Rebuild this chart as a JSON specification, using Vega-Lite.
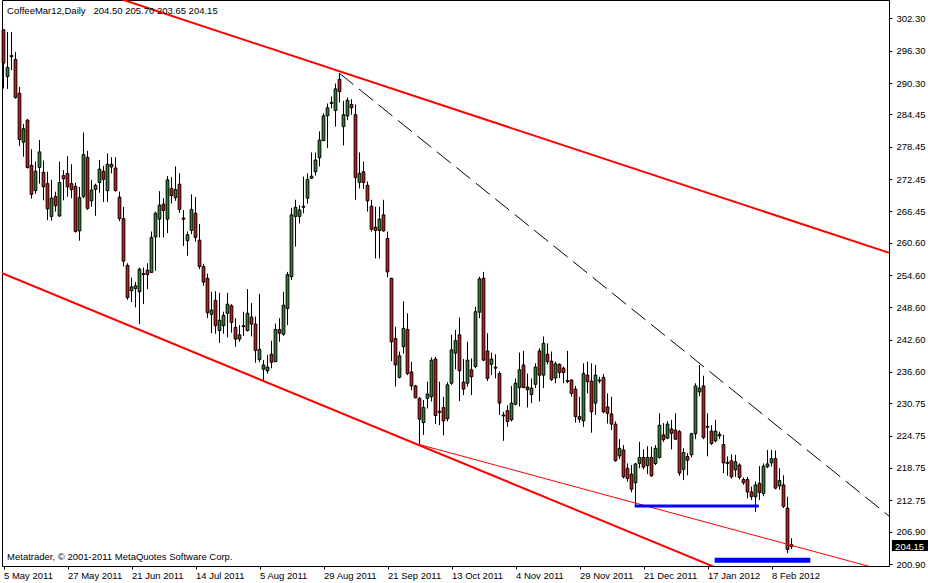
{
  "$schema": "https://vega.github.io/schema/vega-lite/v6.json",
  "width": 887,
  "height": 566,
  "autosize": {"type": "none"},
  "padding": {"left": 2, "top": 0, "right": 39, "bottom": 17},
  "background": "white",
  "config": {
    "view": {"stroke": "black", "strokeWidth": 1},
    "font": "Liberation Sans",
    "scale": {"continuousPadding": 0},
    "axis": {
      "grid": false,
      "domainColor": "black",
      "tickColor": "black",
      "labelColor": "black",
      "labelFont": "Liberation Sans",
      "labelFontSize": 9.5,
      "labelOverlap": false,
      "labelBound": false,
      "labelFlush": false
    }
  },
  "datasets": {
    "bars": [
      {"i":0,"o":300.2,"h":300.2,"l":289.3,"c":294.0},
      {"i":1,"o":291.5,"h":299.8,"l":289.2,"c":293.2},
      {"i":2,"o":295.4,"h":299.8,"l":292.7,"c":295.2},
      {"i":3,"o":294.7,"h":296.1,"l":287.4,"c":287.6},
      {"i":4,"o":288.4,"h":289.6,"l":278.6,"c":279.8},
      {"i":5,"o":279.3,"h":282.7,"l":276.6,"c":281.8},
      {"i":6,"o":283.4,"h":283.6,"l":274.4,"c":274.6},
      {"i":7,"o":275.0,"h":278.0,"l":268.8,"c":269.6},
      {"i":8,"o":270.3,"h":275.7,"l":269.7,"c":273.9},
      {"i":9,"o":274.6,"h":279.7,"l":271.6,"c":277.5},
      {"i":10,"o":273.7,"h":275.9,"l":268.5,"c":271.0},
      {"i":11,"o":271.6,"h":273.8,"l":264.8,"c":266.9},
      {"i":12,"o":265.5,"h":272.3,"l":264.7,"c":268.9},
      {"i":13,"o":269.2,"h":270.1,"l":266.4,"c":267.5},
      {"i":14,"o":265.6,"h":275.7,"l":265.4,"c":271.8},
      {"i":15,"o":273.1,"h":274.1,"l":268.5,"c":272.5},
      {"i":16,"o":273.5,"h":276.7,"l":269.2,"c":271.0},
      {"i":17,"o":271.6,"h":275.2,"l":268.9,"c":270.5},
      {"i":18,"o":271.1,"h":271.8,"l":262.5,"c":262.7},
      {"i":19,"o":262.8,"h":271.0,"l":261.0,"c":269.0},
      {"i":20,"o":269.2,"h":281.1,"l":268.9,"c":277.0},
      {"i":21,"o":276.5,"h":277.7,"l":266.7,"c":267.0},
      {"i":22,"o":268.4,"h":272.3,"l":267.3,"c":270.4},
      {"i":23,"o":270.5,"h":271.6,"l":265.6,"c":271.3},
      {"i":24,"o":271.8,"h":276.0,"l":269.9,"c":274.3},
      {"i":25,"o":273.9,"h":274.9,"l":268.2,"c":272.4},
      {"i":26,"o":270.3,"h":277.2,"l":268.2,"c":275.2},
      {"i":27,"o":275.2,"h":276.5,"l":273.5,"c":274.7},
      {"i":28,"o":274.5,"h":276.5,"l":270.1,"c":270.3},
      {"i":29,"o":269.1,"h":270.1,"l":264.6,"c":265.1},
      {"i":30,"o":265.1,"h":267.3,"l":256.2,"c":257.2},
      {"i":31,"o":256.4,"h":256.8,"l":250.0,"c":250.4},
      {"i":32,"o":251.7,"h":254.1,"l":249.6,"c":252.4},
      {"i":33,"o":252.1,"h":253.3,"l":248.6,"c":252.6},
      {"i":34,"o":251.5,"h":256.0,"l":245.5,"c":255.7},
      {"i":35,"o":254.9,"h":256.0,"l":249.2,"c":254.7},
      {"i":36,"o":255.5,"h":256.8,"l":252.0,"c":254.7},
      {"i":37,"o":255.1,"h":262.7,"l":255.0,"c":261.6},
      {"i":38,"o":261.7,"h":266.4,"l":255.4,"c":266.1},
      {"i":39,"o":265.0,"h":270.2,"l":261.6,"c":267.6},
      {"i":40,"o":267.8,"h":268.9,"l":261.6,"c":266.6},
      {"i":41,"o":265.0,"h":273.0,"l":262.4,"c":272.3},
      {"i":42,"o":270.7,"h":272.8,"l":267.9,"c":269.4},
      {"i":43,"o":269.0,"h":274.8,"l":268.4,"c":270.5},
      {"i":44,"o":271.5,"h":273.5,"l":266.2,"c":266.8},
      {"i":45,"o":265.2,"h":266.7,"l":260.0,"c":265.0},
      {"i":46,"o":261.0,"h":262.7,"l":258.2,"c":262.1},
      {"i":47,"o":262.9,"h":269.6,"l":262.2,"c":266.8},
      {"i":48,"o":266.1,"h":269.1,"l":260.8,"c":261.6},
      {"i":49,"o":261.1,"h":264.1,"l":255.7,"c":256.2},
      {"i":50,"o":256.2,"h":256.7,"l":252.6,"c":253.3},
      {"i":51,"o":254.0,"h":254.9,"l":246.6,"c":247.6},
      {"i":52,"o":247.3,"h":251.5,"l":243.8,"c":248.1},
      {"i":53,"o":249.9,"h":251.6,"l":243.7,"c":245.2},
      {"i":54,"o":244.3,"h":251.3,"l":242.0,"c":246.2},
      {"i":55,"o":245.2,"h":247.8,"l":243.7,"c":247.1},
      {"i":56,"o":247.5,"h":251.3,"l":243.0,"c":249.2},
      {"i":57,"o":248.9,"h":249.2,"l":243.9,"c":245.8},
      {"i":58,"o":244.9,"h":246.6,"l":241.3,"c":242.7},
      {"i":59,"o":242.7,"h":245.3,"l":242.2,"c":243.5},
      {"i":60,"o":245.2,"h":247.8,"l":243.3,"c":245.0},
      {"i":61,"o":244.3,"h":252.0,"l":244.1,"c":247.5},
      {"i":62,"o":246.8,"h":249.4,"l":243.2,"c":245.5},
      {"i":63,"o":245.5,"h":246.9,"l":238.3,"c":240.6},
      {"i":64,"o":238.9,"h":251.1,"l":238.4,"c":240.8},
      {"i":65,"o":237.1,"h":238.8,"l":235.1,"c":237.9},
      {"i":66,"o":236.8,"h":239.8,"l":236.3,"c":237.5},
      {"i":67,"o":239.9,"h":242.4,"l":237.3,"c":238.4},
      {"i":68,"o":238.5,"h":245.6,"l":238.5,"c":244.5},
      {"i":69,"o":244.5,"h":246.6,"l":242.2,"c":243.8},
      {"i":70,"o":243.6,"h":251.5,"l":243.3,"c":249.0},
      {"i":71,"o":248.4,"h":255.2,"l":245.3,"c":254.7},
      {"i":72,"o":254.3,"h":267.1,"l":253.7,"c":265.8},
      {"i":73,"o":265.5,"h":268.6,"l":259.9,"c":267.2},
      {"i":74,"o":265.5,"h":267.6,"l":264.2,"c":266.7},
      {"i":75,"o":267.2,"h":272.9,"l":266.1,"c":267.4},
      {"i":76,"o":268.9,"h":273.5,"l":267.9,"c":272.4},
      {"i":77,"o":272.6,"h":277.4,"l":272.5,"c":273.0},
      {"i":78,"o":273.8,"h":277.4,"l":273.1,"c":276.0},
      {"i":79,"o":276.4,"h":281.3,"l":274.8,"c":279.7},
      {"i":80,"o":279.6,"h":284.7,"l":279.5,"c":284.2},
      {"i":81,"o":284.2,"h":286.5,"l":278.2,"c":285.7},
      {"i":82,"o":286.5,"h":287.8,"l":285.6,"c":286.7},
      {"i":83,"o":285.2,"h":290.2,"l":282.2,"c":289.2},
      {"i":84,"o":291.0,"h":292.1,"l":286.7,"c":288.7},
      {"i":85,"o":282.2,"h":287.0,"l":278.7,"c":284.4},
      {"i":86,"o":284.2,"h":287.6,"l":283.4,"c":287.1},
      {"i":87,"o":286.3,"h":287.3,"l":284.4,"c":285.7},
      {"i":88,"o":284.4,"h":286.3,"l":268.6,"c":272.7},
      {"i":89,"o":271.8,"h":277.4,"l":270.7,"c":273.5},
      {"i":90,"o":273.8,"h":275.7,"l":270.6,"c":271.8},
      {"i":91,"o":271.3,"h":272.0,"l":266.4,"c":268.4},
      {"i":92,"o":267.4,"h":268.6,"l":262.7,"c":263.1},
      {"i":93,"o":263.5,"h":267.3,"l":257.7,"c":262.9},
      {"i":94,"o":262.9,"h":267.3,"l":257.7,"c":265.0},
      {"i":95,"o":265.8,"h":268.6,"l":262.7,"c":262.8},
      {"i":96,"o":261.4,"h":262.7,"l":254.2,"c":255.2},
      {"i":97,"o":254.0,"h":254.1,"l":238.6,"c":242.2},
      {"i":98,"o":242.8,"h":245.0,"l":233.9,"c":237.9},
      {"i":99,"o":235.6,"h":240.4,"l":235.4,"c":239.6},
      {"i":100,"o":241.3,"h":249.7,"l":240.0,"c":244.7},
      {"i":101,"o":244.5,"h":247.5,"l":236.0,"c":236.3},
      {"i":102,"o":236.6,"h":238.5,"l":233.2,"c":234.0},
      {"i":103,"o":234.0,"h":234.2,"l":231.7,"c":231.8},
      {"i":104,"o":231.7,"h":231.9,"l":223.2,"c":227.8},
      {"i":105,"o":227.2,"h":231.4,"l":224.9,"c":230.0},
      {"i":106,"o":231.7,"h":234.8,"l":229.8,"c":232.5},
      {"i":107,"o":232.0,"h":239.3,"l":231.1,"c":238.8},
      {"i":108,"o":239.0,"h":239.4,"l":226.9,"c":228.5},
      {"i":109,"o":229.3,"h":234.8,"l":226.7,"c":229.1},
      {"i":110,"o":230.0,"h":232.0,"l":224.8,"c":227.5},
      {"i":111,"o":227.9,"h":234.7,"l":227.4,"c":234.2},
      {"i":112,"o":234.5,"h":243.5,"l":234.2,"c":240.7},
      {"i":113,"o":240.1,"h":244.4,"l":237.1,"c":242.4},
      {"i":114,"o":243.5,"h":246.7,"l":231.2,"c":236.8},
      {"i":115,"o":234.7,"h":239.0,"l":232.3,"c":233.4},
      {"i":116,"o":234.5,"h":242.2,"l":233.9,"c":238.8},
      {"i":117,"o":237.0,"h":239.1,"l":232.3,"c":235.7},
      {"i":118,"o":237.6,"h":248.7,"l":237.3,"c":247.8},
      {"i":119,"o":247.7,"h":254.3,"l":246.6,"c":253.9},
      {"i":120,"o":254.0,"h":255.2,"l":238.6,"c":238.8},
      {"i":121,"o":240.5,"h":243.8,"l":234.9,"c":235.4},
      {"i":122,"o":238.0,"h":240.2,"l":236.0,"c":239.0},
      {"i":123,"o":237.5,"h":239.9,"l":235.4,"c":237.3},
      {"i":124,"o":236.3,"h":236.7,"l":228.6,"c":230.8},
      {"i":125,"o":228.6,"h":229.2,"l":223.8,"c":228.4},
      {"i":126,"o":229.4,"h":230.4,"l":226.4,"c":227.4},
      {"i":127,"o":227.7,"h":234.0,"l":227.4,"c":230.8},
      {"i":128,"o":230.6,"h":235.4,"l":230.4,"c":234.5},
      {"i":129,"o":233.7,"h":240.2,"l":230.2,"c":237.0},
      {"i":130,"o":237.9,"h":240.5,"l":233.6,"c":233.7},
      {"i":131,"o":233.8,"h":236.3,"l":230.0,"c":233.3},
      {"i":132,"o":232.4,"h":235.4,"l":230.8,"c":233.6},
      {"i":133,"o":234.3,"h":238.2,"l":233.6,"c":237.5},
      {"i":134,"o":240.5,"h":241.0,"l":231.1,"c":236.0},
      {"i":135,"o":236.0,"h":243.2,"l":233.6,"c":241.9},
      {"i":136,"o":239.9,"h":241.9,"l":238.0,"c":238.5},
      {"i":137,"o":238.6,"h":240.4,"l":234.9,"c":235.2},
      {"i":138,"o":235.5,"h":238.5,"l":234.5,"c":238.1},
      {"i":139,"o":238.0,"h":238.2,"l":235.5,"c":236.5},
      {"i":140,"o":237.3,"h":237.6,"l":234.5,"c":236.5},
      {"i":141,"o":235.0,"h":240.5,"l":234.5,"c":234.8},
      {"i":142,"o":235.1,"h":235.2,"l":232.0,"c":232.6},
      {"i":143,"o":233.4,"h":234.0,"l":227.2,"c":228.3},
      {"i":144,"o":228.3,"h":232.0,"l":227.2,"c":227.8},
      {"i":145,"o":227.5,"h":238.2,"l":226.4,"c":236.3},
      {"i":146,"o":236.0,"h":238.5,"l":232.6,"c":234.8},
      {"i":147,"o":234.9,"h":238.2,"l":225.3,"c":229.2},
      {"i":148,"o":230.8,"h":237.9,"l":228.6,"c":236.0},
      {"i":149,"o":235.1,"h":235.7,"l":234.5,"c":234.9},
      {"i":150,"o":235.6,"h":236.2,"l":228.9,"c":229.2},
      {"i":151,"o":230.1,"h":232.6,"l":227.0,"c":228.9},
      {"i":152,"o":228.8,"h":232.0,"l":225.8,"c":226.9},
      {"i":153,"o":226.9,"h":227.4,"l":219.9,"c":220.1},
      {"i":154,"o":221.0,"h":224.1,"l":220.4,"c":222.4},
      {"i":155,"o":222.1,"h":223.0,"l":216.8,"c":217.1},
      {"i":156,"o":218.7,"h":219.6,"l":216.2,"c":216.8},
      {"i":157,"o":217.6,"h":219.3,"l":214.2,"c":214.8},
      {"i":158,"o":216.0,"h":219.7,"l":211.8,"c":219.5},
      {"i":159,"o":219.6,"h":223.6,"l":218.7,"c":220.7},
      {"i":160,"o":220.7,"h":222.2,"l":218.5,"c":218.9},
      {"i":161,"o":219.2,"h":222.8,"l":217.6,"c":220.7},
      {"i":162,"o":220.7,"h":222.7,"l":217.1,"c":217.3},
      {"i":163,"o":219.6,"h":223.0,"l":219.3,"c":222.4},
      {"i":164,"o":220.7,"h":228.9,"l":220.5,"c":226.7},
      {"i":165,"o":224.9,"h":227.1,"l":223.6,"c":224.0},
      {"i":166,"o":224.3,"h":227.4,"l":224.1,"c":226.9},
      {"i":167,"o":226.0,"h":227.7,"l":222.2,"c":225.2},
      {"i":168,"o":225.8,"h":228.9,"l":224.0,"c":224.1},
      {"i":169,"o":225.5,"h":225.8,"l":217.3,"c":217.8},
      {"i":170,"o":218.5,"h":222.4,"l":216.5,"c":221.6},
      {"i":171,"o":220.9,"h":221.5,"l":217.4,"c":220.2},
      {"i":172,"o":221.2,"h":225.3,"l":220.7,"c":225.1},
      {"i":173,"o":225.1,"h":234.5,"l":224.1,"c":234.0},
      {"i":174,"o":232.9,"h":237.9,"l":232.1,"c":233.6},
      {"i":175,"o":234.0,"h":235.9,"l":224.1,"c":224.4},
      {"i":176,"o":226.5,"h":228.9,"l":220.9,"c":226.3},
      {"i":177,"o":225.6,"h":226.7,"l":223.0,"c":223.3},
      {"i":178,"o":223.8,"h":227.7,"l":223.5,"c":225.6},
      {"i":179,"o":225.0,"h":225.5,"l":224.1,"c":224.7},
      {"i":180,"o":223.1,"h":224.9,"l":217.8,"c":219.7},
      {"i":181,"o":219.8,"h":220.9,"l":217.3,"c":219.6},
      {"i":182,"o":220.1,"h":221.3,"l":216.8,"c":217.1},
      {"i":183,"o":218.4,"h":221.2,"l":217.1,"c":219.9},
      {"i":184,"o":219.3,"h":219.6,"l":216.6,"c":217.0},
      {"i":185,"o":216.6,"h":217.0,"l":215.6,"c":216.0},
      {"i":186,"o":216.6,"h":217.1,"l":213.1,"c":214.3},
      {"i":187,"o":214.3,"h":215.3,"l":212.8,"c":213.4},
      {"i":188,"o":213.4,"h":216.2,"l":210.6,"c":215.6},
      {"i":189,"o":215.9,"h":219.1,"l":212.8,"c":214.2},
      {"i":190,"o":214.0,"h":219.6,"l":213.5,"c":219.1},
      {"i":191,"o":219.0,"h":222.1,"l":218.7,"c":219.5},
      {"i":192,"o":219.7,"h":222.1,"l":219.0,"c":220.5},
      {"i":193,"o":220.5,"h":222.0,"l":214.8,"c":215.0},
      {"i":194,"o":215.4,"h":218.7,"l":214.7,"c":216.4},
      {"i":195,"o":215.6,"h":217.4,"l":211.3,"c":211.6},
      {"i":196,"o":211.3,"h":213.4,"l":202.9,"c":203.6},
      {"i":197,"o":204.50,"h":205.70,"l":203.65,"c":204.15}
    ],
    "trend": [
      {"id":"upper","i1":20,"p1":308.2,"i2":225,"p2":257.85},
      {"id":"lower","i1":-1,"p1":255.16,"i2":180,"p2":199.65},
      {"id":"thin","i1":104,"p1":223.1,"i2":218,"p2":200.14},
      {"id":"dash","i1":84,"p1":292.1,"i2":222,"p2":209.45},
      {"id":"blue1","i1":157.8,"p1":211.68,"i2":188.8,"p2":211.68},
      {"id":"blue2","i1":177.8,"p1":201.59,"i2":201.7,"p2":201.59}
    ]
  },
  "layer": [
    {
      "data": {"name": "bars"},
      "mark": {"type": "rule", "color": "black", "strokeWidth": 1},
      "encoding": {
        "x": {
          "field": "i", "type": "quantitative",
          "scale": {"domain": [-0.375, 221.375], "nice": false, "zero": false, "padding": 0},
          "axis": {
            "title": null,
            "orient": "bottom",
            "values": [0, 16, 32, 48, 64, 80, 96, 112, 128, 144, 160, 176, 192],
            "tickCount": 30,
            "labelExpr": "['5 May 2011','27 May 2011','21 Jun 2011','14 Jul 2011','5 Aug 2011','29 Aug 2011','21 Sep 2011','13 Oct 2011','4 Nov 2011','29 Nov 2011','21 Dec 2011','17 Jan 2012','8 Feb 2012'][datum.value / 16]",
            "labelAlign": "left",
            "labelBaseline": "top",
            "labelPadding": 1,
            "labelFlush": false,
            "labelOverlap": false,
            "labelBound": false,
            "tickSize": 3
          }
        },
        "y": {
          "field": "l", "type": "quantitative",
          "scale": {"domain": [200.53, 305.73], "nice": false, "zero": false, "padding": 0},
          "axis": {
            "title": null,
            "orient": "right",
            "values": [302.30, 296.30, 290.30, 284.45, 278.45, 272.45, 266.45, 260.60, 254.60, 248.60, 242.60, 236.60, 230.75, 224.75, 218.75, 212.75, 206.90, 200.90],
            "tickCount": 30,
            "format": ".2f",
            "labelAlign": "left",
            "labelBaseline": "middle",
            "labelPadding": 4,
            "labelOverlap": false,
            "labelBound": false,
            "labelFlush": false,
            "tickSize": 3
          }
        },
        "y2": {"field": "h"}
      }
    },
    {
      "data": {"name": "bars"},
      "mark": {"type": "bar", "width": 2.7, "stroke": "black", "strokeWidth": 1},
      "encoding": {
        "x": {"field": "i", "type": "quantitative", "scale": {"domain": [-0.375, 221.375], "nice": false, "zero": false, "padding": 0}},
        "y": {"field": "o", "type": "quantitative", "scale": {"domain": [200.53, 305.73], "nice": false, "zero": false, "padding": 0}},
        "y2": {"field": "c"},
        "fill": {"condition": {"test": "datum.c >= datum.o", "value": "#228B22"}, "value": "#FF0000"}
      }
    },
    {
      "data": {"name": "trend"},
      "transform": [{"filter": "datum.id == 'upper' || datum.id == 'lower'"}],
      "mark": {"type": "rule", "color": "#FF0000", "strokeWidth": 2, "clip": true},
      "encoding": {
        "x": {"field": "i1", "type": "quantitative", "scale": {"domain": [-0.375, 221.375], "nice": false, "zero": false, "padding": 0}},
        "x2": {"field": "i2"},
        "y": {"field": "p1", "type": "quantitative", "scale": {"domain": [200.53, 305.73], "nice": false, "zero": false, "padding": 0}},
        "y2": {"field": "p2"}
      }
    },
    {
      "data": {"name": "trend"},
      "transform": [{"filter": "datum.id == 'thin'"}],
      "mark": {"type": "rule", "color": "#FF0000", "strokeWidth": 1, "clip": true},
      "encoding": {
        "x": {"field": "i1", "type": "quantitative", "scale": {"domain": [-0.375, 221.375], "nice": false, "zero": false, "padding": 0}},
        "x2": {"field": "i2"},
        "y": {"field": "p1", "type": "quantitative", "scale": {"domain": [200.53, 305.73], "nice": false, "zero": false, "padding": 0}},
        "y2": {"field": "p2"}
      }
    },
    {
      "data": {"name": "trend"},
      "transform": [{"filter": "datum.id == 'dash'"}],
      "mark": {"type": "rule", "color": "black", "strokeWidth": 1, "strokeDash": [18, 7], "clip": true},
      "encoding": {
        "x": {"field": "i1", "type": "quantitative", "scale": {"domain": [-0.375, 221.375], "nice": false, "zero": false, "padding": 0}},
        "x2": {"field": "i2"},
        "y": {"field": "p1", "type": "quantitative", "scale": {"domain": [200.53, 305.73], "nice": false, "zero": false, "padding": 0}},
        "y2": {"field": "p2"}
      }
    },
    {
      "data": {"name": "trend"},
      "transform": [{"filter": "datum.id == 'blue1'"}],
      "mark": {"type": "rule", "color": "#0000FF", "strokeWidth": 3, "clip": true},
      "encoding": {
        "x": {"field": "i1", "type": "quantitative", "scale": {"domain": [-0.375, 221.375], "nice": false, "zero": false, "padding": 0}},
        "x2": {"field": "i2"},
        "y": {"field": "p1", "type": "quantitative", "scale": {"domain": [200.53, 305.73], "nice": false, "zero": false, "padding": 0}},
        "y2": {"field": "p2"}
      }
    },
    {
      "data": {"name": "trend"},
      "transform": [{"filter": "datum.id == 'blue2'"}],
      "mark": {"type": "rule", "color": "#0000FF", "strokeWidth": 5, "clip": true},
      "encoding": {
        "x": {"field": "i1", "type": "quantitative", "scale": {"domain": [-0.375, 221.375], "nice": false, "zero": false, "padding": 0}},
        "x2": {"field": "i2"},
        "y": {"field": "p1", "type": "quantitative", "scale": {"domain": [200.53, 305.73], "nice": false, "zero": false, "padding": 0}},
        "y2": {"field": "p2"}
      }
    },
    {
      "data": {"name": "bars"},
      "transform": [{"filter": "datum.i == 197"}],
      "mark": {"type": "rect", "color": "black"},
      "encoding": {
        "x": {"datum": 222.1, "type": "quantitative", "scale": {"domain": [-0.375, 221.375], "nice": false, "zero": false, "padding": 0}},
        "x2": {"datum": 232},
        "y": {"datum": 203.3, "type": "quantitative", "scale": {"domain": [200.53, 305.73], "nice": false, "zero": false, "padding": 0}},
        "y2": {"datum": 205.35}
      }
    },
    {
      "data": {"name": "bars"},
      "transform": [{"filter": "datum.i == 197"}],
      "mark": {"type": "text", "color": "white", "align": "left", "baseline": "middle", "font": "Liberation Sans", "fontSize": 9.5},
      "encoding": {
        "x": {"datum": 222.9, "type": "quantitative", "scale": {"domain": [-0.375, 221.375], "nice": false, "zero": false, "padding": 0}},
        "y": {"field": "c", "type": "quantitative", "scale": {"domain": [200.53, 305.73], "nice": false, "zero": false, "padding": 0}},
        "text": {"field": "c", "type": "quantitative", "format": ".2f"}
      }
    },
    {
      "data": {"values": [{"label": "CoffeeMar12,Daily\u00a0\u00a0 204.50 205.70 203.65 204.15"}]},
      "mark": {"type": "text", "color": "black", "align": "left", "baseline": "alphabetic", "font": "Liberation Sans", "fontSize": 9.5},
      "encoding": {
        "x": {"datum": 0.9, "type": "quantitative", "scale": {"domain": [-0.375, 221.375], "nice": false, "zero": false, "padding": 0}},
        "y": {"datum": 303.13, "type": "quantitative", "scale": {"domain": [200.53, 305.73], "nice": false, "zero": false, "padding": 0}},
        "text": {"field": "label"}
      }
    },
    {
      "data": {"values": [{"label": "Metatrader, © 2001-2011 MetaQuotes Software Corp."}]},
      "mark": {"type": "text", "color": "black", "align": "left", "baseline": "alphabetic", "font": "Liberation Sans", "fontSize": 9.5},
      "encoding": {
        "x": {"datum": 0.9, "type": "quantitative", "scale": {"domain": [-0.375, 221.375], "nice": false, "zero": false, "padding": 0}},
        "y": {"datum": 201.64, "type": "quantitative", "scale": {"domain": [200.53, 305.73], "nice": false, "zero": false, "padding": 0}},
        "text": {"field": "label"}
      }
    }
  ]
}
